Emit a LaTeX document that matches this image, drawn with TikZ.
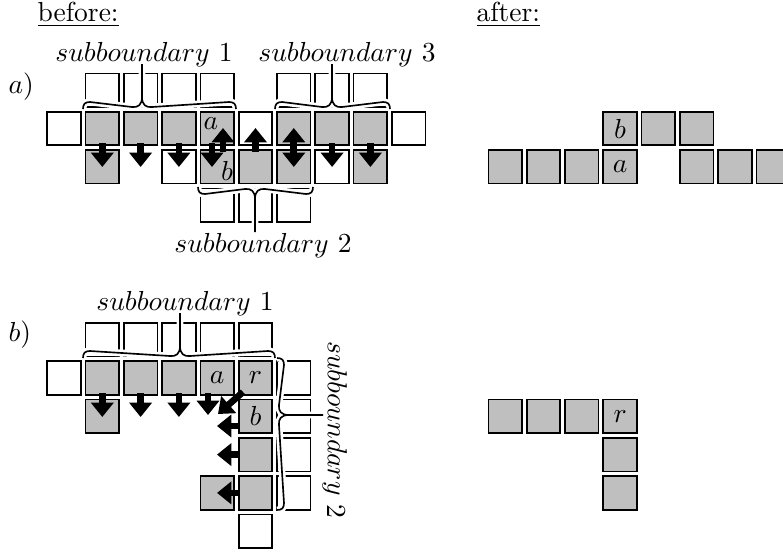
\documentclass[tikz,border=0pt]{standalone}
\usetikzlibrary{arrows.meta}
\definecolor{cellgray}{gray}{0.75}
\newcommand\mybrace[6]{% x0, xm, x1, y, tip, sign
 \draw[brace] (#1,#4) .. controls (#1,#4#6 5) and (#1+2,#4#6 7) .. (#1+7,#4#6 7) -- (#2-10,#4#6 2) .. controls (#2-4,#4#6 1.3) and (#2,#4#6 4) .. (#2,#4#6 12) -- (#2,#5)
   (#2,#4#6 12) .. controls (#2,#4#6 4) and (#2+4,#4#6 1.3) .. (#2+10,#4#6 2) -- (#3-7,#4#6 7) .. controls (#3-2,#4#6 7) and (#3,#4#6 5) .. (#3,#4);}
\begin{document}
\begin{tikzpicture}[x=0.3636pt, y=-0.3636pt,
  cell/.style={draw=black, line width=0.6pt, fill=white, minimum size=12.2pt, inner sep=0pt},
  gcell/.style={cell, fill=cellgray},
  mv/.style={line width=2.4pt, -{Triangle[width=8pt,length=5.2pt]}},
  mvboth/.style={line width=2.4pt, {Triangle[width=8pt,length=5.2pt]}-{Triangle[width=8pt,length=5.2pt]}},
  brace/.style={line width=0.6pt, preaction={draw=white, line width=2.5pt}},
  lbl/.style={inner sep=0pt, anchor=base},
  txt/.style={inner sep=0pt}]
\useasboundingbox (0,0) rectangle (783,552);

% headers
\node[lbl, anchor=base west] (before) at (37,21) {\underline{before:}};
\node[lbl, anchor=base west] (after) at (476,21) {\underline{after:}};
\node[lbl, anchor=base west] (la) at (8,93) {$a)$};
\node[lbl, anchor=base west] (lb) at (8,341) {$b)$};

% ---------- part a, before ----------
\foreach \i in {1,2,3,4,6,7,8} \node[cell] (aT\i) at (64+38.3*\i,90.2) {};
\node[cell] (aM0) at (64,128.5) {};
\foreach \i in {1,2,3,4,6,7,8} \node[gcell] (aM\i) at (64+38.3*\i,128.5) {};
\node[cell] (aM5) at (255.5,128.5) {};
\node[cell] (aM9) at (408.7,128.5) {};
\foreach \i in {1,4,5,6,8} \node[gcell] (aL\i) at (64+38.3*\i,166.8) {};
\foreach \i in {3,7} \node[cell] (aL\i) at (64+38.3*\i,166.8) {};
\foreach \i in {4,5,6} \node[cell] (aB\i) at (64+38.3*\i,205.1) {};

% arrows a
\foreach \x in {102.3,140.6,178.9,332.1,370.4} \draw[mv] (\x,143) -- (\x,167);
\draw[mv] (212,143) -- (212,167);
\draw[mv] (223,152) -- (223,128);
\draw[mv] (255.5,152) -- (255.5,128);
\draw[mvboth] (293.8,128) -- (293.8,167);

% braces a
\mybrace{83}{142}{236}{109}{64}{-}
\mybrace{275}{332}{390}{109}{64}{-}
\mybrace{198}{255}{313}{187}{232}{+}

\node[lbl] (sa1) at (144,61) {$subboundary$ 1};
\node[lbl] (sa3) at (347,61) {$subboundary$ 3};
\node[lbl] (sa2) at (263,252) {$subboundary$ 2};
\node[txt] (la1) at (211,124) {$a$};
\node[txt] (lb1) at (227,171) {$b$};

% ---------- part a, after ----------
\node[gcell] (aaT3) at (620.1,128.5) {$b$};
\foreach \i in {4,5} \node[gcell] (aaT\i) at (505.2+38.3*\i,128.5) {};
\foreach \i in {0,1,2,5,6,7} \node[gcell] (aaB\i) at (505.2+38.3*\i,166.8) {};
\node[gcell] (aaB3) at (620.1,166.8) {$a$};

% ---------- part b, before ----------
\foreach \i in {1,...,5} \node[cell] (bT\i) at (64+38.3*\i,339.7) {};
\node[cell] (bM0) at (64,378) {};
\foreach \i in {1,2,3} \node[gcell] (bM\i) at (64+38.3*\i,378) {};
\node[gcell] (bM4) at (217.2,378) {$a$};
\node[gcell] (bM5) at (255.5,378) {$r$};
\node[cell] (bM6) at (293.8,378) {};
\node[gcell] (b21) at (102.3,416.3) {};
\node[gcell] (b25) at (255.5,416.3) {$b$};
\node[cell] (b26) at (293.8,416.3) {};
\node[gcell] (b35) at (255.5,454.6) {};
\node[cell] (b36) at (293.8,454.6) {};
\node[gcell] (b44) at (217.2,492.9) {};
\node[gcell] (b45) at (255.5,492.9) {};
\node[cell] (b46) at (293.8,492.9) {};
\node[cell] (b55) at (255.5,531.2) {};

% arrows b
\foreach \x in {102.3,140.6,178.9} \draw[mv] (\x,393) -- (\x,417);
\draw[mv] (208,393) -- (208,415);
\draw[mv] (243,392) -- (218,414);
\draw[mv] (239.5,426) -- (217,426);
\draw[mv] (239.5,454.6) -- (217,454.6);
\draw[mv] (239.5,492.9) -- (217,492.9);

% braces b
\mybrace{83}{180}{275}{358}{313}{-}
\draw[brace] (277,358) .. controls (282,358) and (284,360) .. (284,365) -- (279,405) .. controls (278.3,411) and (281,415) .. (289,415) -- (323,415)
  (289,415) .. controls (281,415) and (278.3,419) .. (279,425) -- (284,503) .. controls (284,508) and (282,510) .. (277,510);

\node[lbl] (sb1) at (185,310) {$subboundary$ 1};
\node[lbl, rotate=-90] (sb2) at (328,430) {$subboundary$ 2};

% ---------- part b, after ----------
\foreach \i in {0,1,2} \node[gcell] (bbM\i) at (505.2+38.3*\i,416.3) {};
\node[gcell] (bbM3) at (620.1,416.3) {$r$};
\node[gcell] (bb4) at (620.1,454.6) {};
\node[gcell] (bb5) at (620.1,492.9) {};
\end{tikzpicture}
\end{document}
